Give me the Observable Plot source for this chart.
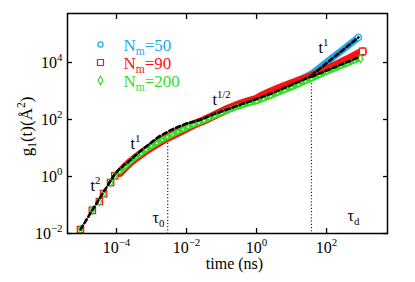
<!DOCTYPE html>
<html><head><meta charset="utf-8">
<script src="https://cdn.jsdelivr.net/npm/d3@7"></script>
<script src="https://cdn.jsdelivr.net/npm/@observablehq/plot@0.6"></script>
<style>
html,body{margin:0;padding:0;background:#fff}
svg text{font-family:'Liberation Serif','Times New Roman',serif !important;}
</style>
</head><body><div id="chart"></div>
<script>
// ---- data ----
const seriesNames = ["N_{m}=50", "N_{m}=90", "N_{m}=200"];
const seriesColors = ["#22a8ee", "#ff1010", "#33dd2a"];
const seriesSymbols = ["circle", "square", "diamond"];

const times50 = [9.33e-6,2.04e-5,3.24e-5,4.27e-5,6.76e-5,8.91e-5,1.23e-4,1.78e-4,2.51e-4,3.55e-4,5.01e-4,7.08e-4,1.0e-3,1.41e-3,2.0e-3,2.82e-3,3.98e-3,5.62e-3,7.94e-3,0.0112,0.0158,0.0224,0.0316,0.0447,0.0631,0.1,0.158,0.251,0.398,0.631,1,1.58,2.51,3.98,6.31,10,15.8,25.1,37.2,63.1,100,158,251,398,631,813];
const g50 = [0.0138,0.0646,0.132,0.251,0.617,1.07,1.35,2.19,3.24,4.57,6.17,8.32,11.0,14.1,18.2,22.9,28.2,34.7,42.7,53.7,66.1,79.4,93.3,115,141,186,240,302,372,447,525,724,933,1175,1479,1820,2399,3090,3981,6607,10233,15849,24547,38019,58884,75858];

const times90 = [9.33e-6,2.04e-5,3.24e-5,4.27e-5,6.76e-5,8.91e-5,1.23e-4,1.78e-4,2.51e-4,3.55e-4,5.01e-4,7.08e-4,1.0e-3,1.41e-3,2.0e-3,2.82e-3,3.98e-3,5.62e-3,7.94e-3,0.0112,0.0158,0.0224,0.0316,0.0447,0.0631,0.1,0.158,0.251,0.398,0.631,1,1.58,2.51,3.98,6.31,10,15.8,25.1,37.2,63.1,100,158,251,398,631,1072];
const g90 = [0.0138,0.0646,0.132,0.251,0.617,1.07,1.35,2.19,3.24,4.57,6.17,8.32,11.0,14.1,18.2,22.9,28.2,34.7,42.7,53.7,66.1,79.4,93.3,115,141,186,240,302,372,447,525,724,933,1175,1479,1820,2239,2754,3311,4365,5623,7413,9772,12882,17378,24547];

const times200 = [9.33e-6,2.04e-5,3.24e-5,4.27e-5,6.76e-5,8.91e-5,1.23e-4,1.78e-4,2.51e-4,3.55e-4,5.01e-4,7.08e-4,1.0e-3,1.41e-3,2.0e-3,2.82e-3,3.98e-3,5.62e-3,7.94e-3,0.0112,0.0158,0.0224,0.0316,0.0447,0.0631,0.1,0.158,0.251,0.398,0.631,1,1.58,2.51,3.98,6.31,10,15.8,25.1,37.2,63.1,100,158,251,398,631,933];
const g200 = [0.0138,0.0646,0.132,0.251,0.617,1.07,1.48,2.29,3.39,4.79,6.46,8.71,11.5,14.8,19.1,24.0,29.5,36.3,44.7,55.0,66.1,77.6,91.2,110,132,170,214,263,316,372,427,525,661,832,1047,1318,1660,2138,2630,3548,4571,5754,7244,9120,11482,13804];

// black dashed fits
const fitTimes = [9.33e-6,3.16e-5,8.91e-5,1.26e-4,2.51e-4,5.01e-4,1e-3,1.58e-3,3.16e-3,5.01e-3,0.01,0.02,0.0316,0.0631,0.158,0.398,1,3.16,10,37.2];
const fitG = [0.0138,0.158,1.2,1.91,3.8,8.13,15.8,24.5,39.8,51.3,72.4,89.1,110,158,234,355,525,891,1660,3311];
const fitUpperTimes = [37.2, 813];
const fitUpperG = [3548, 75858];
const fitLowerTimes = [37.2, 891];
const fitLowerG = [3162, 15849];

// characteristic times (dotted lines)
const tauTimes = [0.0029, 37];
const tauTop = [14.5, 4000];

// annotations
const annoText = ["t^{2}", "t^{1}", "t^{1/2}", "t^{1}", "τ_{0}", "τ_{d}"];
const annoTime = [1.82e-5, 2.51e-4, 0.055, 58.9, 1.07e-3, 398];
const annoG = [0.48, 14.5, 501, 33900, 0.034, 0.04];

const xTicks = [1e-4, 1e-2, 1, 1e2];
const yTicks = [1e-2, 1, 1e2, 1e4];
const xDomain = [3.98e-6, 5500];
const yDomain = [1e-2, 525000];

// ---- tables ----
const allTimes = [times50, times90, times200];
const allG = [g50, g90, g200];
const series = seriesNames.map((name, i) => allTimes[i].map((t, j) => ({t, g: allG[i][j], name})));
const fit = fitTimes.map((t, i) => ({t, g: fitG[i]}));
const fitU = fitUpperTimes.map((t, i) => ({t, g: fitUpperG[i]}));
const fitL = fitLowerTimes.map((t, i) => ({t, g: fitLowerG[i]}));
const taus = tauTimes.map((t, i) => ({t, top: tauTop[i], bottom: yDomain[0]}));
const annos = annoText.map((s, i) => ({s, t: annoTime[i], g: annoG[i]}));

const sup = d => { const e = Math.round(Math.log10(d)); return "10^{" + (e < 0 ? "\u2212" + (-e) : e) + "}"; };

const bandWidth = [7, 8.5, 5.5];
const dotR = [3, 3.6, 2.4];
const marks = [];
series.forEach((rows, i) => {
  marks.push(Plot.line(rows.filter(d => d.t >= 1.2e-4), {x: "t", y: "g", stroke: seriesColors[i], strokeWidth: bandWidth[i], strokeLinecap: "round", strokeLinejoin: "round"}));
  const last = rows.length - 1;
  marks.push(Plot.dot(rows.filter((d, j) => d.t < 1.2e-4 || j === last), {x: "t", y: "g", symbol: seriesSymbols[i], r: dotR[i], stroke: seriesColors[i], fill: "white", strokeWidth: 1.2}));
  if (i === 2) marks.push(Plot.dot(rows.filter(d => d.t >= 1.2e-4), {x: "t", y: "g", r: 1, fill: "#eaffea"}));
});

const plot = Plot.plot({
  width: 415, height: 282,
  marginTop: 13, marginRight: 28, marginBottom: 49, marginLeft: 67,
  style: {fontFamily: "'Liberation Serif', 'Times New Roman', serif", fontSize: "16px", background: "white", color: "black"},
  x: {type: "log", domain: xDomain, axis: null, label: null},
  y: {type: "log", domain: yDomain, axis: null, label: null},
  marks: [
    Plot.ruleX(taus, {x: "t", y1: "top", y2: "bottom", stroke: "#222", strokeWidth: 1.2, strokeDasharray: "1.2,2"}),
    ...marks,
    Plot.line(fit, {x: "t", y: "g", stroke: "black", strokeWidth: 2.6, strokeDasharray: "4.5,3"}),
    Plot.line(fitU, {x: "t", y: "g", stroke: "black", strokeWidth: 2.6, strokeDasharray: "4.5,3"}),
    Plot.line(fitL, {x: "t", y: "g", stroke: "black", strokeWidth: 2.6, strokeDasharray: "4.5,3"}),
    Plot.text(annos, {x: "t", y: "g", text: "s", textAnchor: "start", lineAnchor: "middle", fontSize: 16, fill: "black"}),
    // legend
    ...seriesNames.flatMap((name, i) => [
      Plot.dot([name], {x: null, y: null, frameAnchor: "top-left", dx: 33, dy: 31 + i * 18, symbol: seriesSymbols[i], r: i === 1 ? 3.4 : 2.6, stroke: seriesColors[i], fill: "white", strokeWidth: 1.2}),
      Plot.text([name], {frameAnchor: "top-left", dx: 56, dy: 32 + i * 18, text: d => d, fill: seriesColors[i], textAnchor: "start", lineAnchor: "middle", fontSize: 17})
    ]),
    // axes
    Plot.axisX(xTicks, {anchor: "bottom", tickSize: -5, tickPadding: 13, tickFormat: sup, label: null, strokeWidth: 1.3}),
    Plot.axisX(xTicks, {anchor: "top", tickSize: -5, tickFormat: () => "", label: null, strokeWidth: 1.3}),
    Plot.axisY(yTicks, {anchor: "left", tickSize: -5, tickPadding: 10, tickFormat: sup, label: null, strokeWidth: 1.3}),
    Plot.axisY(yTicks, {anchor: "right", tickSize: -5, tickFormat: () => "", label: null, strokeWidth: 1.3}),
    Plot.frame({stroke: "black", strokeWidth: 1.5}),
    Plot.text(["time (ns)"], {frameAnchor: "bottom", dx: 7, dy: 30, lineAnchor: "middle", fontSize: 16}),
    Plot.text(["g_{1}(t)(Å^{2})"], {frameAnchor: "left", dx: -41, dy: 3, rotate: -90, textAnchor: "middle", lineAnchor: "middle", fontSize: 17})
  ]
});
document.getElementById("chart").appendChild(plot);

// render ^{..} / _{..} markup as real superscript / subscript tspans
function richify(svg) {
  const ns = "http://www.w3.org/2000/svg";
  svg.querySelectorAll("text").forEach(t => {
    const s = t.textContent;
    if (!/[\^_]\{/.test(s)) return;
    const fs = parseFloat(getComputedStyle(t).fontSize) || 16;
    const parts = [];
    const re = /([\^_])\{([^}]*)\}|([^\^_]+)/g;
    let m;
    while ((m = re.exec(s))) parts.push(m[3] !== undefined ? {kind: "", text: m[3]} : {kind: m[1], text: m[2]});
    while (t.firstChild) t.removeChild(t.firstChild);
    let cur = 0;
    parts.forEach(p => {
      const ts = document.createElementNS(ns, "tspan");
      const off = p.kind === "^" ? -0.42 * fs : p.kind === "_" ? 0.22 * fs : 0;
      if (off !== cur) ts.setAttribute("dy", (off - cur).toFixed(2));
      cur = off;
      if (p.kind) ts.setAttribute("font-size", (0.68 * fs).toFixed(2));
      ts.textContent = p.text;
      t.appendChild(ts);
    });
  });
}
richify(plot);
</script></body></html>
